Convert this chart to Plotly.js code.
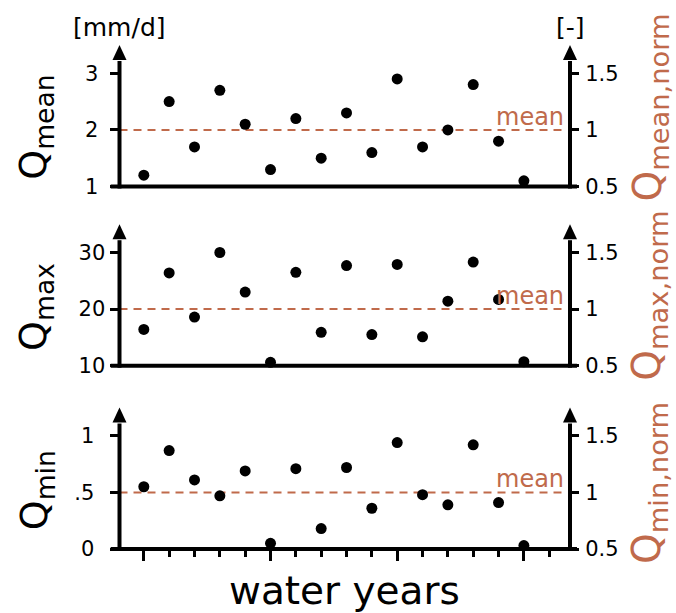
<!DOCTYPE html>
<html><head><meta charset="utf-8">
<script src="https://cdn.plot.ly/plotly-3.0.1.min.js"></script>
<style>html,body{margin:0;padding:0;background:#fff}#chart{width:676px;height:613px}</style>
</head><body><div id="chart"></div>
<script>
// ---- data ----
const years = [1,2,3,4,5,6,7,8,9,10,11,12,13,14,15,16];
const qMean = [1.2,2.5,1.7,2.7,2.1,1.3,2.2,1.5,2.3,1.6,2.9,1.7,2.0,2.8,1.8,1.1];
const qMax  = [16.4,26.4,18.6,30.0,23.0,10.6,26.5,15.9,27.7,15.5,27.9,15.1,21.4,28.3,21.7,10.7];
const qMin  = [0.55,0.87,0.61,0.47,0.69,0.05,0.71,0.18,0.72,0.36,0.94,0.48,0.39,0.92,0.41,0.03];
const meanValues = [2, 20, 0.5];
const meanLabel = "mean";
const leftTickVals = [[1,2,3],[10,20,30],[0,0.5,1]];
const leftTickText = [["1","2","3"],["10","20","30"],["0",".5","1"]];
const rightTickVals = [0.5,1,1.5];
const rightTickText = ["0.5","1","1.5"];
const leftTitles = ["Q<sub>mean</sub>","Q<sub>max</sub>","Q<sub>min</sub>"];
const rightTitles = ["Q<sub>mean,norm</sub>","Q<sub>max,norm</sub>","Q<sub>min,norm</sub>"];
const unitLeft = "[mm/d]";
const unitRight = "[-]";
const xTitle = "water years";

// ---- layout geometry (pixels) ----
const W = 676, H = 613;
const BR = "#c06a4b";
const FONT = "DejaVu Sans";
const fx = p => p / W, fy = p => 1 - p / H;
const axL = 119.5, axR = 570;
const panelBottom = [186.5, 365.7, 549];
const panelH = 141.5;
const leftRanges = [[1,3.5],[10,35],[0,1.25]];
const leftStandoff = [7, 0, 11];
const rightRange = [0.5,1.75];
const xRange = [0.04, 17.82];
const meanLineX = [0.04, 17.55];
const series = [qMean, qMax, qMin];

const data = [];
const layout = {
  width: W, height: H, margin: {l:0,r:0,t:0,b:0},
  paper_bgcolor: "#fff", plot_bgcolor: "rgba(0,0,0,0)",
  showlegend: false, shapes: [], annotations: []
};

for (let i = 0; i < 3; i++) {
  const xs = i === 0 ? "" : String(i+1);
  const yl = i === 0 ? "" : String(2*i+1);
  const yr = String(2*i+2);
  const xName = "x" + xs, ylName = "y" + yl, yrName = "y" + yr;
  const bottom = panelBottom[i], top = bottom - panelH;
  const dom = [fy(bottom), fy(top)];
  layout["xaxis" + xs] = {
    domain: [fx(axL), fx(axR)], range: xRange, anchor: ylName,
    showline: false, showgrid: false, zeroline: false, fixedrange: true,
    showticklabels: false,
    ticks: i === 2 ? "outside" : "", tick0: 1, dtick: 5, ticklen: 11, tickwidth: 3, tickcolor: "#000",
    minor: i === 2 ? {dtick: 1, tick0: 1, ticks: "outside", ticklen: 7, tickwidth: 3, tickcolor: "#000", showgrid: false} : undefined
  };
  layout["yaxis" + yl] = {
    domain: dom, range: leftRanges[i], anchor: xName,
    tickvals: leftTickVals[i], ticktext: leftTickText[i],
    ticks: "outside", ticklen: 9, tickwidth: 3, tickcolor: "#000",
    showline: false, showgrid: false, zeroline: false, fixedrange: true,
    tickfont: {family: FONT, size: 21, color: "#000"}, ticklabelstandoff: leftStandoff[i]
  };
  layout["yaxis" + yr] = {
    domain: dom, range: rightRange, anchor: xName, overlaying: ylName, side: "right",
    tickvals: rightTickVals, ticktext: rightTickText,
    ticks: "outside", ticklen: 8, tickwidth: 3, tickcolor: "#000",
    showline: false, showgrid: false, zeroline: false, fixedrange: true,
    tickfont: {family: FONT, size: 21, color: "#000"}, ticklabelstandoff: 2
  };
  // mean line
  data.push({x: meanLineX, y: [meanValues[i], meanValues[i]], xaxis: xName, yaxis: ylName,
    mode: "lines", line: {color: BR, width: 2, dash: "8px,6px"}, hoverinfo: "skip"});
  // points
  data.push({x: years, y: series[i], xaxis: xName, yaxis: ylName, mode: "markers",
    marker: {color: "#000", size: 11}, cliponaxis: false});
  // invisible trace for right axis
  data.push({x: [years[0]], y: [1], xaxis: xName, yaxis: yrName, mode: "markers",
    marker: {opacity: 0}, hoverinfo: "skip"});

  // axis lines and arrows
  const tip = top, base = top + 15;
  [axL, axR].forEach(ax => {
    layout.shapes.push({type: "line", xref: "paper", yref: "paper",
      x0: fx(ax), x1: fx(ax), y0: fy(bottom + 2), y1: fy(base + 1), line: {color: "#000", width: 4}});
    layout.shapes.push({type: "path", xref: "paper", yref: "paper",
      path: `M${fx(ax-7)},${fy(base)} L${fx(ax+7)},${fy(base)} L${fx(ax)},${fy(tip)} Z`,
      fillcolor: "#000", line: {width: 0}});
  });
  layout.shapes.push({type: "line", xref: "paper", yref: "paper",
    x0: fx(110.7), x1: fx(577), y0: fy(bottom), y1: fy(bottom), line: {color: "#000", width: 4}});

  // mean label
  layout.annotations.push({xref: "paper", yref: ylName, x: fx(566), y: meanValues[i],
    xanchor: "right", yanchor: "bottom", yshift: -3, showarrow: false, text: meanLabel,
    font: {family: FONT, size: 24, color: BR}});
  // left title
  layout.annotations.push({xref: "paper", yref: "paper", x: fx(36), y: fy((bottom + top + 14) / 2 + 5),
    xanchor: "center", yanchor: "middle", textangle: -90, showarrow: false, text: leftTitles[i],
    font: {family: FONT, size: 38, color: "#000"}});
  // right title
  layout.annotations.push({xref: "paper", yref: "paper", x: fx(649), y: fy(bottom + 17),
    xanchor: "center", yanchor: "bottom", textangle: -90, showarrow: false, text: rightTitles[i],
    font: {family: FONT, size: 39, color: BR}});
}
// units
layout.annotations.push({xref: "paper", yref: "paper", x: fx(axL), y: fy(27), xanchor: "center", yanchor: "middle",
  showarrow: false, text: unitLeft, font: {family: FONT, size: 25, color: "#000"}});
layout.annotations.push({xref: "paper", yref: "paper", x: fx(axR), y: fy(27), xanchor: "center", yanchor: "middle",
  showarrow: false, text: unitRight, font: {family: FONT, size: 25, color: "#000"}});
// x title
layout.annotations.push({xref: "paper", yref: "paper", x: fx((axL + axR) / 2), y: fy(590), xanchor: "center", yanchor: "middle",
  showarrow: false, text: xTitle, font: {family: FONT, size: 39, color: "#000"}});

Plotly.newPlot("chart", data, layout, {staticPlot: true, displayModeBar: false});
</script>
</body></html>
